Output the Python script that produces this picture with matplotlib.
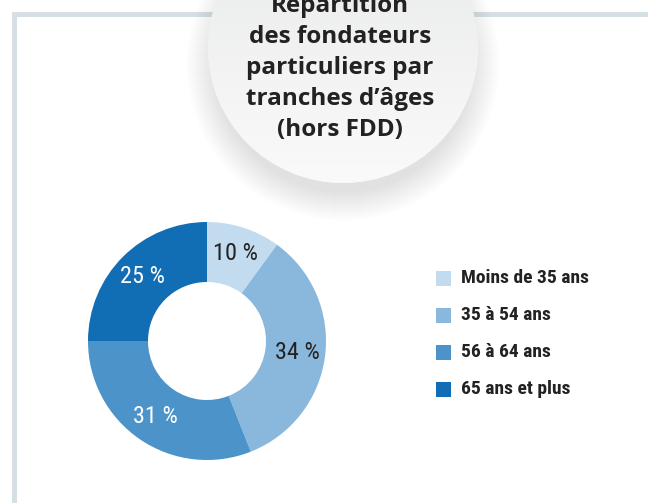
import numpy as np
import matplotlib
matplotlib.use("Agg")
import matplotlib.pyplot as plt
from matplotlib.patches import Circle, Rectangle

# donnees
categories = ["Moins de 35 ans", "35 à 54 ans", "56 à 64 ans", "65 ans et plus"]
parts = [10, 34, 31, 25]
couleurs = ["#c3dbee", "#89b8dc", "#4b93c9", "#116db4"]
couleurs_txt = ["#222222", "#222222", "white", "white"]
titre = "Répartition\ndes fondateurs\nparticuliers par\ntranches d’âges\n(hors FDD)"

W, H = 648, 503
def Y(y):
    # coordonnees pixel (haut = 0) -> axes
    return H - y

narrow = ["Roboto Condensed", "DejaVu Sans"]

fig = plt.figure(figsize=(6.48, 5.03), dpi=100)
ax = fig.add_axes([0, 0, 1, 1])

# cadre gris-bleu
bord = "#d6e0e4"
ax.add_patch(Rectangle((12, Y(17)), W - 12, 5, color=bord, lw=0, zorder=1))
ax.add_patch(Rectangle((12, 0), 5, Y(12), color=bord, lw=0, zorder=1))

# bulle du titre avec ombre douce
cx, cy, r = 343, Y(48), 135
for i in range(30):
    ax.add_patch(Circle((cx, cy - 16), r + 22 - i, color="black", alpha=0.003,
                        lw=0, zorder=2))
bulle = Circle((cx, cy), r, facecolor="#f2f3f4", lw=0, zorder=3)
ax.add_patch(bulle)
grad = np.linspace(0, 1, 100).reshape(-1, 1)
img = ax.imshow(grad, extent=(cx - r, cx + r, cy - r, cy + r), origin="upper",
                cmap=matplotlib.colors.LinearSegmentedColormap.from_list(
                    "g", ["#e8e9ea", "#fafafa"]), zorder=4, aspect="auto")
img.set_clip_path(bulle)
ax.text(340, Y(68), titre, ha="center", va="center", fontsize=17.5,
        fontweight="bold", family=["Open Sans", "DejaVu Sans"], color="#222222",
        linespacing=1.38, zorder=5)

# donut
wedges, _, pct = ax.pie(parts, colors=couleurs, startangle=90, counterclock=False,
                        radius=119, center=(207, Y(341)),
                        wedgeprops=dict(width=60, lw=0),
                        autopct="%d %%", pctdistance=0.77,
                        textprops=dict(fontsize=17.5, family=narrow))
for t, c in zip(pct, couleurs_txt):
    t.set_color(c)

# legende
for i, (lab, c) in enumerate(zip(categories, couleurs)):
    yy = Y(278 + 37 * i)
    ax.add_patch(Rectangle((436, yy - 7.5), 15, 15, color=c, lw=0))
    ax.text(461, yy, lab, ha="left", va="center", fontsize=14, fontweight="bold",
            family=narrow, color="#222222")

ax.set_xlim(0, W)
ax.set_ylim(0, H)
ax.set_aspect("equal")
ax.axis("off")

fig.savefig("out.png", dpi=100)
